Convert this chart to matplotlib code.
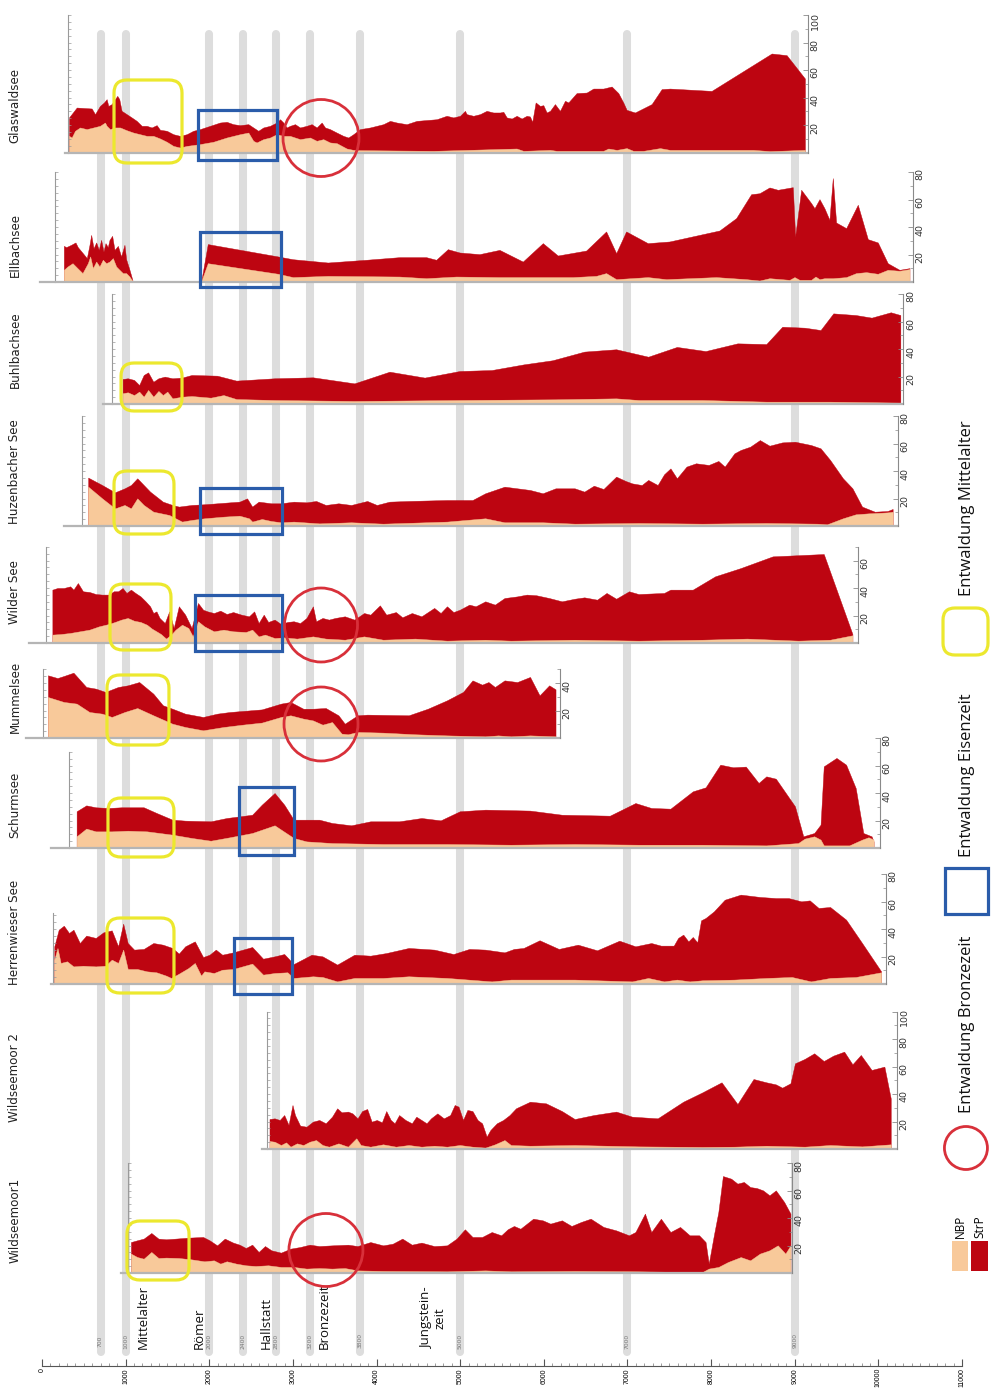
import numpy as np
import matplotlib.pyplot as plt
from matplotlib.patches import FancyBboxPatch, Rectangle, Ellipse
from matplotlib import font_manager

# ---------------- data: ages (years BP) and pollen percentages ----------------
site_names = ['Glaswaldsee', 'Ellbachsee', 'Buhlbachsee', 'Huzenbacher See', 'Wilder See',
              'Mummelsee', 'Schurmsee', 'Herrenwieser See', 'Wildseemoor 2', 'Wildseemoor1']

glas_age = [323, 415, 594, 634, 693, 741, 773, 793, 833, 873, 900, 924, 952, 1012, 1072, 1132, 1192, 1252,
            1311, 1371, 1411, 1491, 1570, 1650, 1730, 1809, 1889, 2009, 2128, 2208, 2287, 2367, 2467, 2526,
            2586, 2646, 2726, 2806, 2846, 2885, 2925, 2965, 3025, 3085, 3164, 3224, 3284, 3344, 3384, 3443,
            3523, 3603, 3662, 3722, 3802, 3922, 4081, 4161, 4241, 4360, 4480, 4639, 4719, 4838, 4918, 4998,
            5057, 5077, 5157, 5237, 5316, 5396, 5476, 5516, 5556, 5616, 5675, 5735, 5795, 5834, 5862, 5902,
            5954, 5994, 6034, 6074, 6133, 6193, 6253, 6293, 6392, 6512, 6592, 6711, 6811, 6891, 6950, 6990,
            7090, 7289, 7409, 7508, 8006, 8724, 8903, 9122]
glas_total = [25.5, 32.7, 32.0, 27.9, 33.9, 36.4, 38.8, 33.9, 35.2, 38.8, 41.2, 38.8, 30.3, 27.9, 25.5, 23.0,
              19.4, 19.4, 18.2, 19.9, 16.5, 15.8, 13.3, 12.1, 13.3, 15.8, 17.0, 19.4, 21.8, 22.3, 20.6, 19.9,
              20.6, 18.2, 15.8, 18.2, 19.4, 21.8, 24.2, 21.8, 18.2, 19.4, 20.6, 18.2, 19.4, 20.6, 18.2, 21.8,
              18.2, 17.0, 14.5, 12.1, 10.9, 13.3, 17.0, 18.2, 20.6, 23.0, 21.8, 20.6, 23.0, 23.8, 24.2, 26.7,
              25.5, 26.7, 30.3, 27.9, 26.7, 27.9, 30.3, 29.1, 29.1, 29.6, 25.5, 24.7, 26.7, 24.7, 26.7, 26.2,
              22.3, 36.4, 33.9, 34.4, 29.1, 30.3, 35.2, 30.3, 37.6, 36.4, 43.2, 43.6, 46.5, 46.5, 48.0, 43.2,
              36.4, 31.0, 29.1, 35.2, 46.1, 46.5, 44.8, 72.0, 70.8, 53.8]
glas_nbp_age = [323, 355, 395, 454, 534, 614, 693, 753, 773, 813, 873, 933, 1012, 1092, 1172, 1252, 1331, 1411,
                1491, 1570, 1650, 1730, 1889, 2048, 2208, 2367, 2467, 2526, 2566, 2646, 2726, 2806, 2885, 2965,
                3085, 3204, 3284, 3363, 3443, 3523, 3643, 3722, 3802, 4679, 5675, 5755, 6074, 6153, 6711, 6771,
                6871, 6990, 7070, 7189, 7389, 7508, 8504, 8704, 9122]
glas_nbp = [12.1, 10.9, 15.8, 18.2, 17.0, 18.2, 19.4, 21.8, 19.4, 17.0, 18.2, 18.2, 16.2, 14.5, 13.3, 12.1, 12.1,
            10.2, 7.8, 4.8, 3.6, 4.8, 6.1, 7.8, 10.9, 13.3, 14.5, 8.5, 7.3, 9.7, 10.9, 13.3, 12.1, 12.1, 9.7,
            10.9, 8.5, 9.7, 7.3, 6.8, 2.9, 1.9, 1.7, 1.2, 2.9, 1.2, 1.9, 1.2, 1.2, 2.9, 1.9, 3.2, 1.2, 1.2, 3.2,
            1.9, 1.9, 1.0, 1.9]

ellb_age = [267, 295, 355, 406, 434, 494, 542, 574, 594, 622, 654, 685, 713, 741, 765, 793, 813, 845, 873, 913,
            952, 992, 1012, 1052, 1092, 1500,
            1909, 1988, 2829, 3005, 3423, 3882, 4280, 4599, 4719, 4858, 4998, 5237, 5476, 5755, 5994, 6173,
            6512, 6751, 6871, 6990, 7249, 7508, 8106, 8306, 8485, 8585, 8704, 8804, 8983, 9011, 9083, 9202,
            9242, 9302, 9361, 9421, 9461, 9501, 9621, 9760, 9880, 9999, 10118, 10258, 10378]
ellb_total = [25.9, 25.0, 26.7, 28.4, 25.0, 20.6, 17.0, 26.7, 33.9, 24.2, 28.4, 23.0, 30.3, 21.8, 27.9, 25.0,
              30.3, 33.2, 23.0, 25.9, 18.2, 26.7, 16.2, 8.5, 0.0, np.nan,
              0.0, 27.2, 18.2, 16.2, 13.8, 15.8, 17.7, 17.7, 15.8, 23.5, 21.1, 19.9, 23.0, 14.5, 27.9, 18.9,
              22.5, 36.4, 20.6, 36.4, 27.9, 29.1, 37.1, 46.1, 63.5, 64.2, 68.4, 66.7, 68.6, 32.7, 66.7, 57.0,
              53.3, 59.9, 53.3, 44.8, 75.2, 42.9, 38.8, 55.8, 30.8, 28.4, 13.3, 8.5, 9.7]
ellb_nbp_age = [267, 311, 371, 430, 490, 554, 582, 614, 654, 693, 733, 773, 813, 853, 893, 932, 972, 1012, 1052,
                1092, 1500,
                1909, 1988, 2829, 3005, 3423, 4280, 4599, 4958, 5476, 6353, 6632, 6751, 6871, 7249, 7469, 8066,
                8425, 8585, 8704, 8943, 9003, 9063, 9202, 9254, 9302, 9361, 9461, 9621, 9740, 9860, 9999, 10118,
                10258, 10378]
ellb_nbp = [8.5, 10.9, 13.3, 9.7, 6.1, 13.3, 18.2, 9.7, 14.5, 10.9, 15.8, 13.3, 14.5, 17.0, 10.9, 8.5, 6.1, 6.1,
            3.6, 0.0, np.nan,
            0.0, 13.3, 5.6, 3.2, 4.1, 3.6, 2.4, 3.6, 3.2, 3.2, 4.1, 6.1, 1.7, 3.2, 1.7, 3.2, 1.7, 0.7, 2.4, 1.2,
            3.2, 1.2, 1.2, 3.6, 1.7, 2.4, 2.4, 3.2, 6.1, 6.8, 5.6, 8.5, 7.8, 9.0]

buhl_age = [964, 1025, 1101, 1162, 1216, 1269, 1331, 1392, 1468, 1559, 1674, 1789, 2094, 2323, 2781, 3239, 3735,
            4155, 4575, 4995, 5377, 5758, 6103, 6484, 6865, 7248, 7591, 7934, 8315, 8660, 8851, 9118, 9309,
            9461, 9729, 9919, 10148, 10263]
buhl_total = [18.2, 18.7, 17.5, 13.8, 21.1, 23.0, 16.2, 18.7, 19.9, 18.7, 19.2, 21.1, 20.6, 17.0, 18.7, 19.4,
              15.0, 23.5, 19.2, 24.0, 24.7, 28.8, 31.8, 38.1, 39.8, 34.4, 41.5, 38.5, 44.1, 43.6, 56.2, 55.5,
              53.8, 65.9, 64.7, 62.8, 66.7, 64.7]
buhl_nbp_age = [964, 1025, 1101, 1162, 1216, 1269, 1331, 1392, 1445, 1498, 1559, 1674, 1789, 2017, 2170, 2323,
                2781, 3735, 4995, 6140, 6865, 7133, 7896, 8660, 9423, 10263]
buhl_nbp = [7.8, 8.5, 6.5, 9.0, 5.3, 10.2, 5.3, 9.5, 6.5, 9.0, 4.1, 5.3, 5.8, 4.6, 6.5, 3.6, 2.9, 2.2, 2.9, 3.4,
            4.1, 2.9, 2.9, 1.7, 1.7, 1.0]

huz_age = [552, 719, 872, 987, 1063, 1139, 1292, 1445, 1559, 1636, 1789, 1941, 2094, 2246, 2361, 2452, 2513,
           2590, 2743, 2857, 3009, 3162, 3277, 3392, 3544, 3697, 3888, 4003, 4155, 4384, 4842, 5147, 5300, 5530,
           5682, 5835, 5987, 6140, 6369, 6484, 6598, 6713, 6865, 6980, 7056, 7171, 7248, 7361, 7438, 7514, 7591,
           7706, 7819, 7972, 8087, 8163, 8278, 8354, 8468, 8583, 8698, 8850, 9003, 9194, 9309, 9423, 9576, 9690,
           9805, 9957, 10110, 10171]
huz_total = [35.2, 29.8, 24.5, 27.4, 29.8, 34.7, 25.0, 17.7, 15.3, 14.1, 15.3, 15.8, 16.5, 17.2, 17.7, 20.1,
             14.1, 17.7, 16.5, 16.5, 17.7, 17.2, 18.2, 15.3, 16.5, 15.3, 18.2, 15.3, 17.7, 18.2, 18.9, 18.9,
             23.8, 28.6, 27.4, 26.2, 23.8, 27.4, 27.4, 25.0, 29.3, 26.9, 35.9, 32.7, 31.0, 29.8, 33.5, 29.8,
             37.6, 41.9, 34.7, 43.2, 45.6, 44.4, 47.3, 43.2, 52.8, 55.3, 57.7, 62.5, 58.4, 60.8, 61.3, 58.9,
             56.5, 48.0, 34.7, 27.4, 14.1, 10.4, 10.9, 12.4]
huz_nbp_age = [552, 719, 872, 987, 1063, 1139, 1216, 1331, 1521, 1597, 1674, 1789, 1941, 2170, 2361, 2475, 2513,
               2628, 2743, 2857, 3009, 3315, 3697, 4078, 4842, 5300, 5530, 5987, 6369, 7133, 7896, 8660, 9270,
               9385, 9576, 9729, 9882, 10110, 10171]
huz_nbp = [28.6, 20.1, 12.8, 15.3, 12.8, 20.1, 15.3, 10.4, 8.0, 5.6, 3.2, 4.4, 5.6, 6.8, 7.5, 5.6, 3.2, 5.1, 3.6,
           2.7, 3.2, 1.9, 2.7, 1.7, 3.2, 5.6, 2.7, 2.7, 1.7, 2.2, 1.7, 2.2, 1.7, 1.2, 5.6, 8.5, 9.2, 9.9, 10.4]

wild_age = [124, 185, 261, 337, 376, 429, 490, 567, 643, 719, 796, 857, 910, 964, 1010, 1063, 1116, 1178, 1238,
            1292, 1331, 1368, 1406, 1468, 1521, 1575, 1636, 1712, 1789, 1865, 1926, 1979, 2055, 2132, 2208, 2285,
            2384, 2475, 2537, 2590, 2651, 2704, 2781, 2857, 2934, 3009, 3086, 3162, 3239, 3277, 3354, 3430, 3505,
            3620, 3735, 3850, 3926, 4040, 4116, 4231, 4308, 4422, 4537, 4689, 4766, 4842, 4919, 4995, 5109, 5185,
            5300, 5415, 5530, 5682, 5796, 5911, 6064, 6216, 6369, 6484, 6637, 6750, 6865, 7018, 7133, 7438, 7514,
            7781, 8049, 8354, 8736, 9347, 9690]
wild_total = [38.8, 40.0, 40.0, 41.2, 38.8, 43.6, 37.6, 37.1, 35.6, 35.2, 35.2, 37.6, 37.6, 40.0, 36.4, 38.8,
              36.4, 33.9, 30.3, 26.7, 21.8, 23.0, 18.2, 14.5, 23.0, 10.9, 26.7, 20.6, 10.9, 29.1, 24.2, 23.0,
              21.8, 23.5, 21.1, 22.5, 20.6, 19.4, 23.0, 14.5, 20.6, 15.3, 17.0, 13.8, 15.3, 15.8, 14.5, 18.2,
              26.7, 15.8, 18.2, 17.0, 18.2, 19.4, 17.0, 21.8, 20.6, 27.4, 20.6, 22.5, 18.7, 21.8, 19.4, 25.5,
              21.8, 26.7, 22.5, 24.2, 27.9, 26.7, 30.3, 27.9, 32.7, 33.9, 35.2, 34.7, 32.7, 30.3, 32.2, 33.2,
              31.5, 36.4, 32.2, 37.6, 35.6, 36.4, 38.8, 38.8, 48.5, 54.5, 63.0, 64.7, 6.5]
wild_nbp_age = [124, 223, 337, 452, 567, 681, 796, 872, 948, 1025, 1101, 1178, 1254, 1315, 1368, 1422, 1483, 1544,
                1597, 1674, 1750, 1803, 1865, 1941, 2055, 2170, 2285, 2437, 2513, 2590, 2666, 2781, 2896, 3048,
                3239, 3392, 3620, 3850, 4078, 4461, 4842, 5300, 5606, 6369, 7133, 7896, 8430, 9041, 9423, 9690]
wild_nbp = [6.1, 6.5, 7.3, 8.5, 9.7, 12.1, 13.8, 15.3, 17.0, 18.2, 16.2, 15.3, 13.3, 10.4, 8.5, 6.5, 3.2, 6.1, 9.7,
            13.3, 10.9, 4.8, 15.8, 12.1, 8.5, 9.7, 8.5, 8.0, 9.7, 4.8, 6.1, 3.6, 4.1, 3.2, 4.8, 3.2, 2.4, 4.8, 2.4,
            3.2, 1.7, 2.4, 1.7, 2.4, 1.7, 2.4, 3.2, 1.7, 2.4, 5.6]

mumm_age = [71, 185, 261, 376, 529, 643, 758, 910, 1025, 1162, 1331, 1445, 1559, 1712, 1926, 2094, 2246, 2628,
            2857, 2971, 3124, 3239, 3392, 3544, 3620, 3773, 3888, 4384, 4613, 4842, 5034, 5147, 5262, 5338, 5415,
            5530, 5682, 5835, 5949, 6064, 6140]
mumm_total = [45.6, 43.6, 45.1, 47.5, 37.1, 35.9, 33.5, 37.1, 38.3, 40.7, 32.2, 23.8, 21.3, 17.7, 15.3, 17.7,
              18.9, 20.8, 25.0, 26.2, 21.3, 21.3, 21.8, 16.5, 10.4, 16.5, 17.0, 16.5, 21.3, 27.4, 33.5, 41.9,
              38.8, 40.7, 37.1, 41.9, 40.7, 44.4, 31.0, 38.3, 35.4]
mumm_nbp_age = [71, 261, 414, 567, 719, 834, 987, 1139, 1331, 1559, 1712, 1926, 2170, 2399, 2628, 2857, 2971, 3124,
                3239, 3354, 3468, 3582, 3658, 3773, 4078, 4461, 4842, 5300, 5453, 5606, 5835, 6140]
mumm_nbp = [29.8, 26.2, 25.0, 18.9, 17.7, 15.3, 18.9, 21.8, 16.5, 10.4, 8.0, 5.6, 8.0, 9.7, 11.2, 15.3, 16.5, 14.1,
            12.8, 9.7, 11.6, 3.2, 2.7, 4.4, 3.9, 2.7, 1.9, 1.2, 1.9, 1.2, 1.9, 1.2]

schu_age = [414, 529, 643, 796, 948, 1216, 1368, 1559, 1712, 2017, 2208, 2361, 2513, 2628, 2781, 2896, 3009, 3315,
            3468, 3697, 3926, 4270, 4537, 4766, 4995, 5300, 5835, 6216, 6789, 7095, 7285, 7514, 7781, 7934, 8110,
            8263, 8415, 8568, 8660, 8774, 9003, 9102, 9233, 9309, 9347, 9499, 9614, 9729, 9820, 9919, 9943]
schu_total = [26.7, 31.0, 29.6, 29.1, 29.6, 29.6, 25.5, 20.6, 19.9, 19.4, 21.8, 23.0, 24.2, 31.5, 40.0, 31.5,
              20.6, 20.6, 18.2, 16.5, 19.4, 19.4, 21.8, 20.1, 26.7, 27.9, 27.2, 24.2, 23.5, 32.7, 29.1, 28.6,
              41.2, 44.1, 60.6, 58.7, 59.2, 47.3, 52.1, 50.4, 30.3, 8.5, 10.9, 17.0, 59.4, 65.5, 60.6, 43.6,
              10.9, 8.5, 4.8]
schu_nbp_age = [414, 529, 643, 834, 1025, 1254, 1559, 1789, 2017, 2246, 2513, 2781, 3009, 3162, 3468, 4078, 4842,
                5606, 6369, 7133, 7896, 8660, 9041, 9118, 9233, 9309, 9347, 9652, 9805, 9882, 9943]
schu_nbp = [8.5, 14.1, 12.1, 12.1, 12.6, 12.1, 9.7, 7.3, 5.3, 7.8, 10.9, 16.5, 7.3, 4.8, 3.6, 2.9, 2.9, 2.4, 2.9,
            2.4, 2.4, 1.9, 3.6, 6.8, 8.5, 6.1, 1.9, 1.9, 6.1, 7.8, 6.1]

herr_age = [147, 200, 261, 323, 376, 452, 529, 643, 734, 834, 910, 971, 1025, 1101, 1216, 1331, 1445, 1559, 1636,
            1712, 1773, 1827, 1879, 1926, 2003, 2078, 2155, 2285, 2513, 2643, 2781, 2896, 3009, 3223, 3354, 3529,
            3735, 3926, 4116, 4384, 4689, 4919, 5109, 5300, 5530, 5643, 5758, 5949, 6179, 6407, 6637, 6903, 7095,
            7285, 7400, 7553, 7606, 7667, 7728, 7781, 7835, 7880, 7934, 8033, 8163, 8354, 8583, 8774, 8926, 9079,
            9179, 9285, 9423, 9614, 9805, 10033]
herr_total = [27.4, 39.5, 42.4, 37.1, 39.5, 29.8, 35.2, 33.5, 37.6, 39.0, 27.4, 43.9, 29.8, 25.0, 25.5, 29.8,
              28.6, 26.2, 22.1, 27.4, 29.3, 31.0, 25.0, 19.6, 21.3, 25.0, 21.3, 23.0, 26.9, 18.4, 20.1, 21.8,
              14.5, 21.3, 20.1, 14.1, 21.3, 20.6, 22.5, 26.2, 25.0, 21.8, 25.5, 25.0, 23.0, 25.5, 26.2, 31.8,
              25.5, 28.6, 24.5, 31.5, 27.4, 29.8, 27.9, 27.9, 33.5, 35.9, 31.0, 34.2, 30.3, 46.3, 48.0, 52.8,
              61.3, 65.0, 63.3, 62.5, 62.5, 60.1, 60.8, 55.3, 56.0, 46.8, 29.8, 9.2]
herr_nbp_age = [147, 185, 223, 299, 376, 490, 643, 758, 834, 910, 971, 1025, 1139, 1254, 1368, 1483, 1544, 1636,
                1750, 1827, 1902, 1941, 2055, 2155, 2285, 2513, 2643, 2781, 2934, 3009, 3239, 3354, 3529, 3735,
                4078, 4384, 4842, 5377, 5606, 6369, 7056, 7248, 7438, 7591, 7744, 7896, 8278, 8660, 8965, 9194,
                9423, 9729, 10033]
herr_nbp = [17.7, 26.2, 15.3, 16.5, 12.8, 13.3, 12.8, 13.3, 17.7, 15.3, 25.0, 10.9, 10.9, 9.2, 8.5, 6.1, 4.4, 7.5,
            11.6, 15.3, 6.1, 9.2, 8.0, 10.4, 10.9, 14.8, 6.8, 8.0, 8.5, 4.4, 5.6, 5.1, 1.9, 4.4, 4.4, 5.6, 4.4,
            1.9, 3.2, 3.2, 1.9, 4.4, 1.9, 3.2, 1.9, 2.7, 3.2, 4.4, 5.1, 1.9, 4.4, 5.1, 8.5]

wsm2_age = [2720, 2781, 2842, 2896, 2948, 2995, 3025, 3086, 3162, 3239, 3315, 3392, 3468, 3529, 3582, 3658, 3712,
            3773, 3827, 3888, 3941, 4003, 4064, 4116, 4170, 4216, 4270, 4346, 4422, 4475, 4537, 4598, 4651, 4727,
            4804, 4880, 4934, 4980, 5034, 5086, 5147, 5208, 5262, 5316, 5361, 5438, 5514, 5591, 5667, 5835, 6026,
            6216, 6369, 6598, 6865, 7056, 7361, 7667, 7896, 8125, 8315, 8507, 8660, 8774, 8850, 8949, 9003, 9118,
            9233, 9347, 9461, 9591, 9690, 9790, 9919, 10072, 10148]
wsm2_total = [21.8, 22.3, 21.1, 24.7, 17.5, 32.0, 24.7, 17.0, 16.2, 19.9, 21.1, 18.7, 23.5, 29.6, 26.7, 27.2,
              25.9, 22.3, 27.6, 29.1, 19.9, 21.1, 19.4, 27.6, 21.1, 18.7, 24.7, 21.1, 18.7, 23.5, 21.1, 18.7,
              22.3, 25.9, 22.3, 24.7, 32.0, 30.8, 21.1, 28.4, 27.6, 21.1, 18.7, 9.0, 13.8, 18.7, 21.1, 24.7,
              29.6, 34.4, 33.2, 27.6, 21.8, 24.7, 27.2, 23.5, 22.3, 34.4, 41.2, 48.5, 32.7, 50.9, 48.5, 47.0,
              44.6, 47.8, 62.3, 65.5, 69.6, 64.0, 67.9, 70.8, 61.6, 68.4, 57.5, 59.9, 36.8]
wsm2_nbp_age = [2720, 2781, 2857, 2918, 2971, 3048, 3124, 3201, 3277, 3354, 3430, 3544, 3658, 3758, 3811, 3926,
                4078, 4231, 4384, 4537, 4689, 4842, 4995, 5147, 5300, 5415, 5530, 5606, 5835, 6369, 7133, 7896,
                8278, 8660, 9118, 9423, 9805, 10148]
wsm2_nbp = [5.8, 5.3, 2.9, 4.8, 1.7, 4.1, 2.9, 5.3, 6.5, 2.9, 1.7, 4.1, 1.7, 7.8, 2.9, 1.7, 3.4, 1.7, 2.9, 1.7,
            2.4, 1.7, 2.9, 1.7, 1.0, 3.4, 6.5, 2.9, 2.4, 2.9, 1.9, 1.5, 1.7, 2.4, 1.7, 2.9, 1.9, 3.4]

wsm1_age = [1063, 1139, 1216, 1307, 1392, 1483, 1597, 1750, 1926, 2003, 2094, 2185, 2285, 2361, 2437, 2513, 2590,
            2666, 2743, 2857, 2971, 3086, 3201, 3315, 3468, 3658, 3773, 3926, 4078, 4193, 4308, 4422, 4537, 4689,
            4842, 4957, 5056, 5147, 5262, 5377, 5491, 5568, 5643, 5720, 5873, 5987, 6078, 6216, 6331, 6445, 6560,
            6713, 6865, 7018, 7095, 7209, 7285, 7400, 7514, 7629, 7744, 7857, 7934, 7972, 8033, 8087, 8141, 8240,
            8315, 8392, 8468, 8545, 8621, 8698, 8774, 8874, 8949]
wsm1_total = [22.5, 23.8, 25.0, 29.1, 25.0, 24.5, 25.0, 25.7, 26.2, 23.8, 20.1, 25.0, 22.1, 20.6, 18.2, 20.6,
              15.3, 19.6, 16.5, 14.8, 17.7, 18.9, 20.6, 19.6, 20.1, 20.6, 19.6, 22.5, 20.1, 21.3, 25.0, 20.6,
              22.1, 19.6, 20.1, 25.0, 31.8, 26.2, 26.2, 29.8, 27.4, 31.8, 34.2, 32.2, 39.5, 38.3, 35.9, 38.3,
              34.2, 37.1, 39.5, 33.5, 31.0, 27.4, 29.8, 43.2, 29.8, 39.5, 29.8, 33.5, 27.4, 27.4, 22.5, 6.8,
              27.4, 44.4, 70.5, 68.6, 65.0, 66.2, 62.5, 61.8, 60.1, 56.5, 60.1, 51.6, 43.2]
wsm1_nbp_age = [1063, 1139, 1216, 1307, 1392, 1483, 1636, 1789, 1941, 2055, 2132, 2208, 2323, 2437, 2552, 2704,
                2857, 3009, 3162, 3315, 3468, 3620, 3773, 4078, 4842, 5300, 5606, 6369, 7133, 7744, 7896, 7972,
                8087, 8202, 8354, 8468, 8583, 8698, 8797, 8888, 8949]
wsm1_nbp = [14.1, 11.6, 10.4, 15.3, 10.9, 11.2, 10.9, 9.9, 8.5, 9.2, 6.8, 8.5, 6.8, 5.6, 5.1, 5.6, 4.4, 4.4, 3.2,
            3.6, 3.2, 3.6, 1.9, 1.5, 1.2, 1.9, 1.2, 1.5, 1.2, 0.7, 0.7, 3.2, 4.4, 8.0, 11.6, 9.2, 14.1, 16.5, 20.1,
            14.1, 20.1]

# axis extents of each record (ages, %)
axis_left = [311, 155, 837, 478, 48, 12, 323, 132, 2690, 1028]
axis_left_top = [100, 80, 80, 80, 70, 50, 70, 52, 100, 80]
axis_right = [9158, 10414, 10300, 10230, 9756, 6193, 10019, 10091, 10222, 8967]
axis_right_max = [100, 80, 80, 80, 70, 50, 80, 80, 100, 80]
base_start = [275, -24, 729, 263, -155, -191, 108, 108, 2630, 945]

# time markers
bar_ages = [700, 1000, 2000, 2400, 2800, 3200, 3800, 5000, 7000, 9000]
period_names = ['Mittelalter', 'Römer', 'Hallstatt', 'Bronzezeit', 'Jungstein-\nzeit']
period_ages = [1208, 1877, 2678, 3370, 4675]

# ---------------- layout ----------------
W, H = 996, 1388
YR_PX = 11000 / 920
X0, X1 = -42 * YR_PX, (W - 42) * YR_PX
PCT_PX = 1.375
baseline_px = [152.5, 282, 404, 526, 643, 738, 848, 984, 1149, 1273]
label_px = [105, 245, 350, 472, 592, 697, 805, 932, 1078, 1220]

RED = '#bd0511'
PEACH = '#f8c99a'
BAR = '#dddddd'
YEL = '#ece82e'
BLUE = '#2a5caa'
CIRC = '#d8303a'

avail = {f.name for f in font_manager.fontManager.ttflist}
NARROW = 'Liberation Sans Narrow' if 'Liberation Sans Narrow' in avail else 'Liberation Sans'

fig = plt.figure(figsize=(W / 100, H / 100), dpi=100)

bg = fig.add_axes([0, 0, 1, 1])
bg.set_xlim(X0, X1)
bg.set_ylim(H, 0)
bg.axis('off')
for a in bar_ages:
    bg.plot([a, a], [34, 1352], color=BAR, lw=5.8, solid_capstyle='round', zorder=0)
    bg.text(a, 1341, str(a), rotation=90, ha='center', va='center', fontsize=4.3, color='#777777')
for name, a in zip(period_names, period_ages):
    bg.text(a, 1349, name, rotation=90, ha='center', va='bottom', fontsize=9.5,
            family='Open Sans', color='#111111', multialignment='center', linespacing=1.0)

series = [(glas_age, glas_total, glas_nbp_age, glas_nbp),
          (ellb_age, ellb_total, ellb_nbp_age, ellb_nbp),
          (buhl_age, buhl_total, buhl_nbp_age, buhl_nbp),
          (huz_age, huz_total, huz_nbp_age, huz_nbp),
          (wild_age, wild_total, wild_nbp_age, wild_nbp),
          (mumm_age, mumm_total, mumm_nbp_age, mumm_nbp),
          (schu_age, schu_total, schu_nbp_age, schu_nbp),
          (herr_age, herr_total, herr_nbp_age, herr_nbp),
          (wsm2_age, wsm2_total, wsm2_nbp_age, wsm2_nbp),
          (wsm1_age, wsm1_total, wsm1_nbp_age, wsm1_nbp)]

for i, (age, tot, nage, nbp) in enumerate(series):
    b = baseline_px[i]
    ax = fig.add_axes([0, (H - b) / H, 1, 100 * PCT_PX / H])
    ax.patch.set_alpha(0)
    ax.set_xlim(X0, X1)
    ax.set_ylim(0, 100)
    ax.fill_between(age, 0, np.array(tot, dtype=float), color=RED, lw=0.3, ec=RED)
    ax.fill_between(nage, 0, np.array(nbp, dtype=float), color=PEACH, lw=0.3, ec=PEACH)
    for s in ['top', 'right']:
        ax.spines[s].set_visible(False)
    ax.spines['bottom'].set_bounds(base_start[i], axis_right[i])
    ax.spines['bottom'].set_color('#b5b5b5')
    ax.spines['bottom'].set_linewidth(1.6)
    ax.spines['left'].set_position(('data', axis_left[i]))
    ax.spines['left'].set_bounds(0, axis_left_top[i])
    ax.spines['left'].set_color('#9a9a9a')
    ax.spines['left'].set_linewidth(0.8)
    ax.set_xticks([])
    ax.set_yticks(np.arange(0, axis_left_top[i] + 0.1, 5))
    ax.tick_params(axis='y', direction='in', length=2.2, width=0.5, color='#9a9a9a', labelleft=False)

    ax2 = ax.twinx()
    ax2.set_ylim(0, 100)
    for s in ['top', 'left', 'bottom']:
        ax2.spines[s].set_visible(False)
    ax2.spines['right'].set_position(('data', axis_right[i]))
    ax2.spines['right'].set_bounds(0, axis_right_max[i])
    ax2.spines['right'].set_color('#8a8a8a')
    ax2.spines['right'].set_linewidth(0.8)
    ax2.set_yticks(np.arange(20, axis_right_max[i] + 0.1, 20))
    ax2.set_yticks(np.arange(10, axis_right_max[i] + 0.1, 10), minor=True)
    ax2.tick_params(axis='y', which='major', direction='in', length=3.5, width=0.6, color='#8a8a8a',
                    labelsize=6.8, labelcolor='#333333', labelrotation=90, pad=2)
    ax2.tick_params(axis='y', which='minor', direction='in', length=2.2, width=0.5, color='#8a8a8a')

# time axis
tax = fig.add_axes([0, (H - 1366) / H, 1, 0.0001])
tax.patch.set_alpha(0)
tax.set_xlim(X0, X1)
for s in ['top', 'left', 'right']:
    tax.spines[s].set_visible(False)
tax.spines['bottom'].set_bounds(0, 11000)
tax.spines['bottom'].set_color('#555555')
tax.spines['bottom'].set_linewidth(0.8)
tax.set_yticks([])
tax.set_xticks(np.arange(0, 11001, 1000))
tax.set_xticks(np.arange(0, 11001, 100), minor=True)
tax.tick_params(axis='x', which='major', direction='in', length=5, width=0.8, color='#555555',
                labelsize=5, labelrotation=90, pad=1.5)
tax.tick_params(axis='x', which='minor', direction='in', length=2.5, width=0.5, color='#777777')
for lab in tax.get_xticklabels():
    lab.set_family(NARROW)

# overlay: annotations, site names, legend
top = fig.add_axes([0, 0, 1, 1])
top.patch.set_alpha(0)
top.set_xlim(X0, X1)
top.set_ylim(H, 0)
top.axis('off')

for name, y in zip(site_names, label_px):
    top.text(-323, y, name, rotation=90, ha='center', va='center', fontsize=8.6,
             family='DejaVu Sans', color='#222222')

mittel_boxes = [(861, 1674, 80, 163), (945, 1674, 363, 411), (861, 1578, 471, 534), (813, 1542, 584, 650),
                (777, 1518, 675, 745), (789, 1578, 798, 857), (777, 1578, 918, 993), (1016, 1758, 1221, 1280)]
eisen_boxes = [(1865, 2810, 110, 160), (1889, 2857, 232, 287), (1889, 2869, 488, 534), (1829, 2869, 595, 651),
               (2355, 3013, 787, 855), (2296, 2989, 938, 994)]
bronze_rings = [(3336, 138, 76, 77), (3336, 625, 73, 74), (3336, 724, 74, 74), (3395, 1250, 74, 73)]


def rounded(a0, a1, y0, y1, r_px=13):
    return FancyBboxPatch((a0, y0), a1 - a0, y1 - y0,
                          boxstyle='round,pad=0,rounding_size=%f' % (r_px * YR_PX),
                          mutation_aspect=1 / YR_PX, fill=False, ec=YEL, lw=2.3)


for a0, a1, y0, y1 in mittel_boxes:
    top.add_patch(rounded(a0, a1, y0, y1))
for a0, a1, y0, y1 in eisen_boxes:
    top.add_patch(Rectangle((a0, y0), a1 - a0, y1 - y0, fill=False, ec=BLUE, lw=2.3))
for a, y, w, h in bronze_rings:
    top.add_patch(Ellipse((a, y), w * YR_PX, h, fill=False, ec=CIRC, lw=2.0))

# legend (rotated like the rest of the figure)
top.add_patch(rounded(10773, 11311, 608, 655, r_px=12))
top.add_patch(Rectangle((10796, 868), 11311 - 10796, 46, fill=False, ec=BLUE, lw=2.3))
top.add_patch(Ellipse((11047, 1148), 43 * YR_PX, 43, fill=False, ec=CIRC, lw=2.0))
top.add_patch(Rectangle((10880, 1241), 11071 - 10880, 30, color=PEACH, lw=0))
top.add_patch(Rectangle((11107, 1241), 11311 - 11107, 30, color=RED, lw=0))
for txt, y in [('Entwaldung Mittelalter', 596), ('Entwaldung Eisenzeit', 857), ('Entwaldung Bronzezeit', 1113)]:
    top.text(11060, y, txt, rotation=90, ha='center', va='bottom', fontsize=12, family='Open Sans',
             color='#111111')
top.text(10976, 1238, 'NBP', rotation=90, ha='center', va='bottom', fontsize=8.5, family='Open Sans')
top.text(11209, 1238, 'StrP', rotation=90, ha='center', va='bottom', fontsize=8.5, family='Open Sans')

fig.savefig('out.png', dpi=100)
